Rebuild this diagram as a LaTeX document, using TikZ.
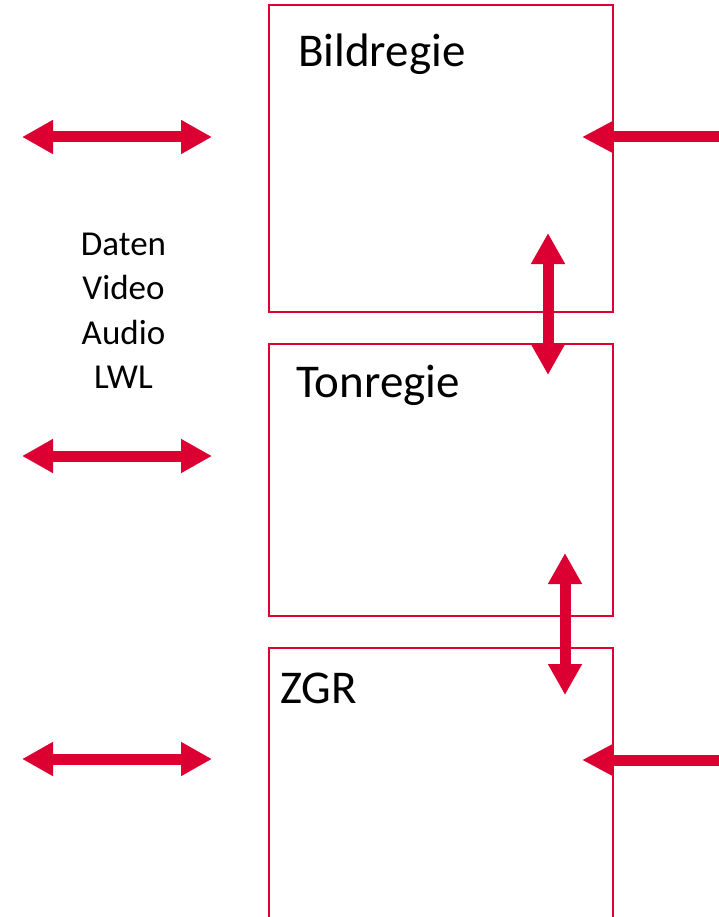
\documentclass[tikz,border=0pt]{standalone}
\usepackage{fontspec}
\setmainfont{Carlito}
\usetikzlibrary{arrows.meta}

\definecolor{regiered}{RGB}{220,0,50}

\begin{document}
\begin{tikzpicture}[
        x=1pt, y=-1pt,
        regiebox/.style={draw=regiered, line width=2pt, minimum width=344pt, outer sep=0pt, inner sep=0pt},
        title/.style={anchor=base west, inner sep=0pt, font=\fontsize{47}{55}\selectfont},
        sigtext/.style={anchor=base, inner sep=0pt, font=\fontsize{35}{42}\selectfont},
        link/.style={draw=regiered, line width=11pt, {Triangle[length=31pt,width=32pt]}-{Triangle[length=31pt,width=32pt]}},
        feed/.style={draw=regiered, line width=11pt, -{Triangle[length=31pt,width=30pt]}}
    ]

    \useasboundingbox (0,0) rectangle (719,917);
    \clip (0,0) rectangle (719,917);

    % the three rooms
    \node[regiebox, minimum height=307pt] (bild) at (441,158.5) {};
    \node[regiebox, minimum height=272pt] (ton)  at (441,480) {};
    \node[regiebox, minimum height=312pt] (zgr)  at (441,804) {};

    \node[title] (bildtitle) at (298,67)  {Bildregie};
    \node[title] (tontitle)  at (296,397) {Tonregie};
    \node[title] (zgrtitle)  at (280,703) {ZGR};

    % signal types
    \foreach \name/\txt [count=\i] in {daten/Daten, video/Video, audio/Audio, lwl/LWL}
        \node[sigtext] (\name) at (123.5,{255+44.5*(\i-1)}) {\txt};

    % left links
    \foreach \y [count=\i] in {137, 456, 759} {
        \coordinate (lA\i) at (22,\y);
        \coordinate (lB\i) at (212,\y);
        \draw[link] (lA\i) -- (lB\i);
    }

    % feeds from the right
    \coordinate (rA1) at (730,137);
    \coordinate (rB1) at (582,137);
    \coordinate (rA2) at (730,760);
    \coordinate (rB2) at (582,760);
    \draw[feed] (rA1) -- (rB1);
    \draw[feed] (rA2) -- (rB2);

    % links between rooms
    \coordinate (vA1) at (548,233);
    \coordinate (vB1) at (548,375);
    \coordinate (vA2) at (565,553);
    \coordinate (vB2) at (565,695);
    \draw[link] (vA1) -- (vB1);
    \draw[link] (vA2) -- (vB2);
\end{tikzpicture}
\end{document}
